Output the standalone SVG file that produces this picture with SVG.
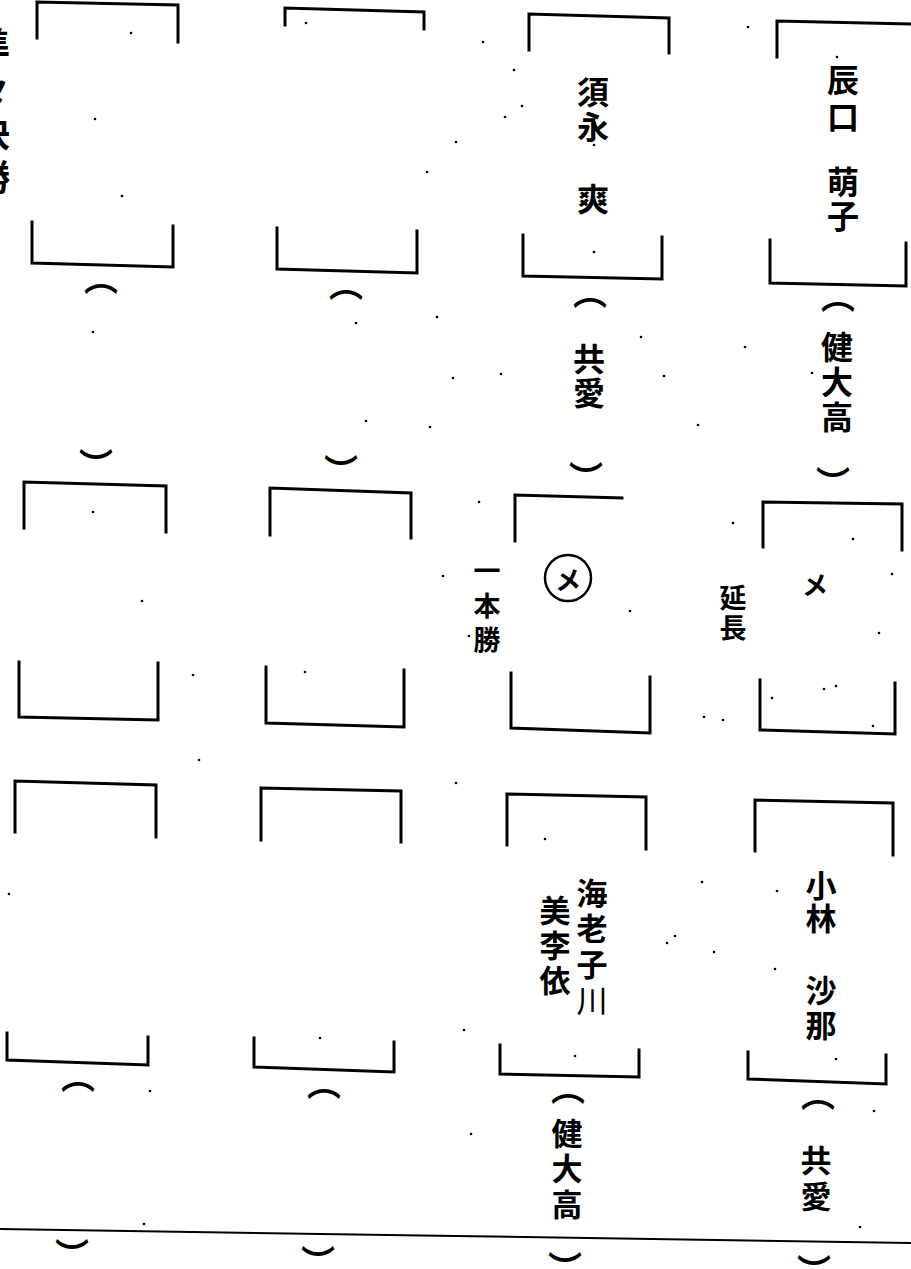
<svg xmlns="http://www.w3.org/2000/svg" width="911" height="1269" viewBox="0 0 911 1269">
<style>
.br{fill:none;stroke:#000;stroke-width:3;stroke-linejoin:miter;stroke-linecap:square}
.t{font-family:"Noto Sans CJK JP","Noto Sans CJK SC",sans-serif;font-weight:700;fill:#000}
.h{text-anchor:middle;dominant-baseline:central}
.v{writing-mode:vertical-rl;text-anchor:start}
.n{font-size:32px}
.s{font-size:31px}
.m{font-size:27px}
.p{font-size:34px}
.dot{fill:#000}
</style>
<rect width="911" height="1269" fill="#fff"/>
<g id="heading">
<text class="t v" style="font-size:36px;letter-spacing:8px" x="-8" y="27">準々決勝</text>
</g>
<!-- row 1 -->
<g id="c1r1">
<path class="br" d="M37,38 L37,2 L178,5 L178,42"/>
<path class="br" d="M32,222 L32,263 L173,267 L173,226"/>
<text class="t h p" x="101" y="276">︵</text>
<text class="t h p" x="96" y="463">︶</text>
</g>
<g id="c2r1">
<path class="br" d="M285,25 L285,8 L424,12 L424,29"/>
<path class="br" d="M277,228 L277,269 L417,273 L417,231"/>
<text class="t h p" x="346" y="282">︵</text>
<text class="t h p" x="341" y="469">︶</text>
</g>
<g id="c3r1">
<path class="br" d="M529,50 L529,14 L669,18 L669,53"/>
<text class="t v n" style="letter-spacing:3px" x="593" y="76">須永</text>
<text class="t h n" x="593" y="197">爽</text>
<path class="br" d="M523,235 L523,276 L662,279 L662,237"/>
<text class="t h p" x="590" y="290">︵</text>
<text class="t v n" style="letter-spacing:2px" x="589" y="343">共愛</text>
<text class="t h p" x="586" y="476">︶</text>
</g>
<g id="c4r1">
<path class="br" d="M777,57 L777,21 L913,24 L913,57"/>
<text class="t v n" style="letter-spacing:5px" x="843" y="64">辰口</text>
<text class="t v n" style="letter-spacing:2px" x="843" y="166">萌子</text>
<path class="br" d="M770,240 L770,283 L906,286 L906,243"/>
<text class="t h p" x="838" y="294">︵</text>
<text class="t v n" style="letter-spacing:3px" x="837" y="331">健大高</text>
<text class="t h p" x="833" y="481">︶</text>
</g>
<!-- row 2 -->
<g id="c1r2">
<path class="br" d="M24,528 L24,482 L166,486 L166,532"/>
<path class="br" d="M19,662 L19,717 L158,720 L158,663"/>
</g>
<g id="c2r2">
<path class="br" d="M270,535 L270,488 L411,493 L411,538"/>
<path class="br" d="M266,667 L266,723 L404,727 L404,670"/>
</g>
<g id="c3r2">
<path class="br" d="M515,541 L515,495 L622,498"/>
<circle cx="568" cy="578" r="23" fill="none" stroke="#000" stroke-width="2.5"/>
<text class="t h" style="font-size:26px" x="568" y="578">メ</text>
<text class="t v m" style="letter-spacing:7.5px" x="487" y="557.5">一本勝</text>
<path class="br" d="M511,673 L511,728 L650,733 L650,677"/>
</g>
<g id="c4r2">
<path class="br" d="M763,547 L763,502 L902,504 L902,550"/>
<text class="t h" style="font-size:26px" x="815" y="583">メ</text>
<text class="t v m" style="letter-spacing:3px" x="733" y="584.5">延長</text>
<path class="br" d="M760,680 L760,730 L895,734 L895,683"/>
</g>
<!-- row 3 -->
<g id="c1r3">
<path class="br" d="M15,832 L15,781 L156,785 L156,837"/>
<path class="br" d="M7,1033 L7,1060 L148,1065 L148,1037"/>
<text class="t h p" x="78" y="1074">︵</text>
<text class="t h p" x="72" y="1253">︶</text>
</g>
<g id="c2r3">
<path class="br" d="M261,840 L261,788 L401,791 L401,842"/>
<path class="br" d="M254,1038 L254,1067 L394,1072 L394,1042"/>
<text class="t h p" x="324" y="1081">︵</text>
<text class="t h p" x="318" y="1260">︶</text>
</g>
<g id="c3r3">
<path class="br" d="M507,845 L507,794 L646,797 L646,849"/>
<text class="t v s" style="letter-spacing:4.7px" x="592" y="877.5">海老子<tspan style="font-weight:400">川</tspan></text>
<text class="t v s" style="letter-spacing:4px" x="555" y="894.5">美李依</text>
<path class="br" d="M500,1045 L500,1074 L639,1077 L639,1050"/>
<text class="t h p" x="568" y="1086">︵</text>
<text class="t v s" style="letter-spacing:4.5px" x="567" y="1117.5">健大高</text>
<text class="t h p" x="565" y="1266">︶</text>
</g>
<g id="c4r3">
<path class="br" d="M755,851 L755,800 L893,803 L893,855"/>
<text class="t v s" style="letter-spacing:2px" x="821" y="869.5">小林</text>
<text class="t v s" style="letter-spacing:4px" x="821" y="974.5">沙那</text>
<path class="br" d="M748,1052 L748,1079 L886,1084 L886,1055"/>
<text class="t h p" x="818" y="1092">︵</text>
<text class="t v s" style="letter-spacing:5px" x="816" y="1144.5">共愛</text>
<text class="t h p" x="814" y="1269">︶</text>
</g>
<g id="connectors">
<path d="M0,1229 L455,1236 L911,1243" fill="none" stroke="#000" stroke-width="2"/>
</g>
<g id="specks" class="dot">
<circle cx="131" cy="33" r="1.3"/><circle cx="95" cy="119" r="1.3"/><circle cx="122" cy="196" r="1.3"/><circle cx="93" cy="332" r="1.3"/>
<circle cx="306" cy="23" r="1.3"/><circle cx="456" cy="142" r="1.3"/><circle cx="427" cy="172" r="1.3"/><circle cx="437" cy="317" r="1.3"/>
<circle cx="356" cy="323" r="1.3"/><circle cx="453" cy="378" r="1.3"/><circle cx="366" cy="421" r="1.3"/><circle cx="430" cy="427" r="1.3"/>
<circle cx="483" cy="42" r="1.3"/><circle cx="514" cy="70" r="1.3"/><circle cx="522" cy="106" r="1.3"/><circle cx="505" cy="117" r="1.3"/>
<circle cx="594" cy="145" r="1.3"/><circle cx="594" cy="252" r="1.3"/><circle cx="641" cy="337" r="1.3"/><circle cx="501" cy="374" r="1.3"/>
<circle cx="664" cy="376" r="1.3"/><circle cx="745" cy="347" r="1.3"/><circle cx="698" cy="425" r="1.3"/><circle cx="812" cy="373" r="1.3"/>
<circle cx="748" cy="27" r="1.3"/><circle cx="837" cy="57" r="1.3"/>
<circle cx="93" cy="512" r="1.3"/><circle cx="142" cy="601" r="1.3"/><circle cx="193" cy="675" r="1.3"/><circle cx="305" cy="672" r="1.3"/>
<circle cx="479" cy="502" r="1.3"/><circle cx="443" cy="576" r="1.3"/><circle cx="630" cy="611" r="1.3"/><circle cx="733" cy="523" r="1.3"/>
<circle cx="853" cy="539" r="1.3"/><circle cx="892" cy="574" r="1.3"/><circle cx="879" cy="633" r="1.3"/><circle cx="704" cy="717" r="1.3"/>
<circle cx="723" cy="720" r="1.3"/><circle cx="824" cy="689" r="1.3"/><circle cx="836" cy="686" r="1.3"/><circle cx="772" cy="698" r="1.3"/>
<circle cx="873" cy="726" r="1.3"/><circle cx="469" cy="636" r="1.3"/>
<circle cx="199" cy="760" r="1.3"/><circle cx="456" cy="783" r="1.3"/><circle cx="9" cy="894" r="1.3"/><circle cx="545" cy="839" r="1.3"/>
<circle cx="702" cy="882" r="1.3"/><circle cx="777" cy="891" r="1.3"/><circle cx="675" cy="936" r="1.3"/><circle cx="667" cy="943" r="1.3"/>
<circle cx="714" cy="952" r="1.3"/><circle cx="775" cy="969" r="1.3"/><circle cx="464" cy="1030" r="1.3"/><circle cx="320" cy="1038" r="1.3"/>
<circle cx="575" cy="1056" r="1.3"/><circle cx="836" cy="1059" r="1.3"/><circle cx="150" cy="1091" r="1.3"/><circle cx="874" cy="1111" r="1.3"/>
<circle cx="471" cy="1134" r="1.3"/><circle cx="144" cy="1224" r="1.3"/><circle cx="860" cy="1227" r="1.3"/>
</g>
</svg>
